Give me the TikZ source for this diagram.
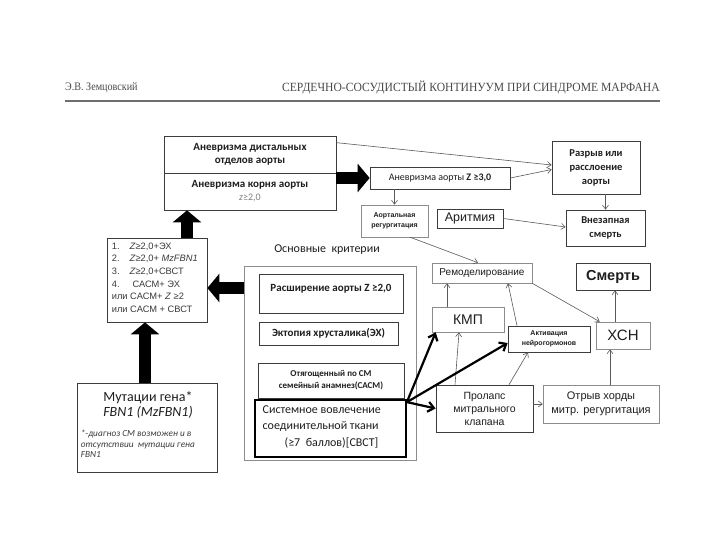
\documentclass[tikz,border=0pt]{standalone}
\usepackage{fontspec}
\setmainfont{Carlito}
\newfontfamily\hdrfont{Liberation Serif}
\newfontfamily\arialf{Liberation Sans}
\usetikzlibrary{arrows.meta}
\newcommand\fsz[2]{\fontsize{#1}{#2}\selectfont}
\definecolor{txt}{HTML}{1E1E1E}
\definecolor{boxgray}{HTML}{3C3C3C}
\definecolor{lightbox}{HTML}{8C8C8C}
\definecolor{arrgray}{HTML}{5A5A5A}
\definecolor{hdr}{HTML}{4A4A4A}
\definecolor{listtxt}{HTML}{3A3A3A}
\begin{document}
\begin{tikzpicture}[x=1pt,y=-1pt,
  box/.style={draw=boxgray, line width=0.7pt, inner sep=1pt, align=center, text=txt},
  lbox/.style={draw=lightbox, line width=0.6pt, inner sep=1pt, align=center, text=txt},
  bigarrow/.style={line width=12pt, draw=black, -{Triangle[length=12pt,width=28pt]}},
  thin/.style={draw=arrgray, line width=0.6pt, -{Straight Barb[length=4pt,width=6pt]}},
  thick/.style={draw=black, line width=2.2pt, -{Straight Barb[length=6pt,width=10pt,line width=2.2pt]}},
]
\useasboundingbox (0,0) rectangle (720,540);
\fill[white] (0,0) rectangle (720,540);

% header
\node[font=\hdrfont\fsz{11.5}{13}, text=hdr, anchor=west, inner sep=0] (author) at (65,88) {\scalebox{0.88}[1]{Э.В. Земцовский}};
\node[font=\hdrfont\fsz{12.5}{14}, text=hdr, anchor=east, inner sep=0] (title) at (660,88) {\scalebox{0.93}[1]{СЕРДЕЧНО-СОСУДИСТЫЙ КОНТИНУУМ ПРИ СИНДРОМЕ МАРФАНА}};
\draw[draw=hdr!80, line width=1.6pt] (author.west |- 0,101) -- (title.east |- 0,101);

% top left box
\node[box, minimum width=172pt, minimum height=37pt, font=\bfseries\fsz{11}{13}] (distal) at (250,154.5) {Аневризма дистальных\\отделов аорты};
\node[box, minimum width=172pt, minimum height=37pt, font=\bfseries\fsz{11}{13}] (root) at (250,191.5) {Аневризма корня аорты\\{\mdseries\color{gray}\fsz{10}{12}\textit{z}≥2,0}};

% upper middle / right
\node[box, minimum width=140pt, minimum height=22pt, font=\fsz{10}{12}] (an3) at (440,178) {Аневризма аорты \textbf{Z ≥3,0}};
\node[box, minimum width=88pt, minimum height=53pt, font=\bfseries\fsz{10.5}{14}] (razryv) at (596,167.5) {Разрыв или\\расслоение\\аорты};
\node[box, minimum width=79pt, minimum height=36pt, font=\bfseries\fsz{10.5}{14}] (vnez) at (605.5,228) {Внезапная\\смерть};
\node[box, minimum width=66pt, minimum height=19pt, font=\arialf\fsz{12.5}{14}] (aritm) at (470,218.5) {Аритмия};
\node[lbox, minimum width=67pt, minimum height=32pt, font=\arialf\bfseries\fsz{7}{10}] (aortreg) at (394.5,221) {Аортальная\\регургитация};

% criteria
\node[font=\fsz{12}{14}, text=txt] (osn) at (327,250) {Основные\ \ критерии};
\node[draw=lightbox, line width=0.6pt, minimum width=172pt, minimum height=194pt] (crit) at (330,363) {};
\node[box, minimum width=144pt, minimum height=39pt] (rassh) at (331,293.5) {};
\node[font=\bfseries\fsz{11}{13}, text=txt, anchor=north] (rasshtxt) at ([yshift=-7pt]rassh.north) {Расширение аорты Z ≥2,0};
\node[box, minimum width=139pt, minimum height=23pt, font=\bfseries\fsz{11}{13}] (ekt) at (328.5,333.5) {Эктопия хрусталика(ЭХ)};
\node[box, minimum width=146pt, minimum height=35pt, font=\bfseries\fsz{9}{12}] (otyag) at (331,380.5) {Отягощенный по СМ\\семейный анамнез(САСМ)};
\node[draw=black, line width=1.8pt, minimum width=151pt, minimum height=57pt, inner sep=0] (svct) at (330.5,428.5) {};
\node[font=\fsz{12}{16.5}, text=txt, align=left, anchor=north west] (svcttxt) at ([xshift=5pt,yshift=-3pt]svct.north west) {Системное вовлечение\\соединительной ткани\\\hspace*{22pt}(≥7\ \ баллов)[СВСТ]};

% left list
\node[box, minimum width=100pt, minimum height=84pt] (list) at (157,280) {};
\node[font=\arialf\fsz{9.3}{12.6}, text=listtxt, align=left, anchor=north west, inner sep=0] (listtxt) at ([xshift=5pt,yshift=-5pt]list.north west) {1.\hspace{10pt}\textit{Z}≥2,0+ЭХ\\2.\hspace{10pt}\textit{Z}≥2,0+ \textit{MzFBN1}\\3.\hspace{10pt}\textit{Z}≥2,0+СВСТ\\4.\hspace{13pt}САСМ+ ЭХ\\или САСМ+ \textit{Z} ≥2\\или САСМ + СВСТ};

% mutation box
\node[box, minimum width=140pt, minimum height=89pt] (mut) at (147,427.5) {};
\node[font=\fsz{14}{15.5}, text=txt, align=center, anchor=north] (muttxt) at ([xshift=1pt,yshift=-5pt]mut.north) {Мутации гена*\\\textit{FBN1 (MzFBN1)}};
\node[font=\itshape\fsz{9.3}{10.6}, text=listtxt, align=left, anchor=north west, inner sep=0] (mutnote) at ([xshift=4pt,yshift=-47pt]mut.north west) {*-диагноз СМ возможен и в\\отсутствии\ \ мутации гена\\FBN1};

% right part
\node[lbox, minimum width=100pt, minimum height=20pt, font=\arialf\fsz{10}{12}] (remod) at (482,273) {Ремоделирование};
\node[box, minimum width=74pt, minimum height=27pt, font=\arialf\bfseries\fsz{14.5}{16}] (smert) at (613,276.5) {Смерть};
\node[lbox, minimum width=72pt, minimum height=25pt, font=\arialf\fsz{14}{16}] (kmp) at (468,319.5) {КМП};
\node[box, minimum width=82pt, minimum height=26pt, font=\arialf\bfseries\fsz{7}{10}] (aktiv) at (549,339) {Активация\\нейрогормонов};
\node[lbox, minimum width=54pt, minimum height=27pt, font=\arialf\fsz{15}{17}] (xsn) at (623,335.5) {ХСН};
\node[box, minimum width=97pt, minimum height=47pt, font=\arialf\fsz{10.5}{13}] (prolaps) at (484.5,408.5) {Пролапс\\митрального\\клапана};
\node[lbox, minimum width=116pt, minimum height=38pt, font=\arialf\fsz{11}{14}] (otryv) at (601,404) {Отрыв хорды\\митр. регургитация};

% big arrows
\draw[bigarrow] (root.east |- 0,178) -- (an3.west);
\draw[bigarrow] ([yshift=75pt]crit.west) -- ([yshift=75pt]crit.west -| list.east);
\draw[bigarrow] ([xshift=30pt]list.north) -- ([xshift=30pt]list.north |- root.south);
\draw[bigarrow] ([xshift=-2pt]mut.north) -- ([xshift=-2pt]mut.north |- list.south);

% thin arrows
\draw[thin] ([yshift=-7pt]distal.north east) -- ([yshift=2.5pt]razryv.west);
\draw[thin] (an3.east) -- ([yshift=-2pt]razryv.west);
\draw[thin] (aortreg.north |- an3.south) -- (aortreg.north);
\draw[thin] (vnez.north |- razryv.south) -- (vnez.north);
\draw[thin] (aritm.east) -- ([yshift=1pt]vnez.west);
\draw[thin] ([xshift=-18pt]aortreg.south east) -- ([xshift=-4pt]remod.north);
\draw[thin] ([xshift=-21pt]kmp.north) -- ([xshift=-21pt]kmp.north |- remod.south);
\draw[thin] ([xshift=-32pt]aktiv.north) -- ([xshift=26pt]remod.south);
\draw[thin] (remod.south east) -- ([xshift=4pt]xsn.north west);
\draw[thin] ([xshift=-8pt]xsn.north) -- ([xshift=-8pt]xsn.north |- smert.south);
\draw[thin] ([xshift=-29.5pt]prolaps.north) -- ([xshift=-9pt]kmp.south);
\draw[thin] ([xshift=24.5pt]prolaps.north) -- ([xshift=-21pt]aktiv.south);
\draw[thin] (prolaps.east |- otryv.west) -- (otryv.west);
\draw[thin] ([xshift=9pt]otryv.north) -- ([xshift=9pt]otryv.north |- xsn.south);

% thick arrows from SVCT
\draw[thick] ([yshift=-3pt]svct.north east) -- ([xshift=4pt]kmp.south west);
\draw[thick] ([yshift=-3pt]svct.north east) -- ([yshift=-4pt]aktiv.west);
\draw[thick] ([yshift=-3pt]svct.north east) -- (prolaps.west);
\end{tikzpicture}
\end{document}
